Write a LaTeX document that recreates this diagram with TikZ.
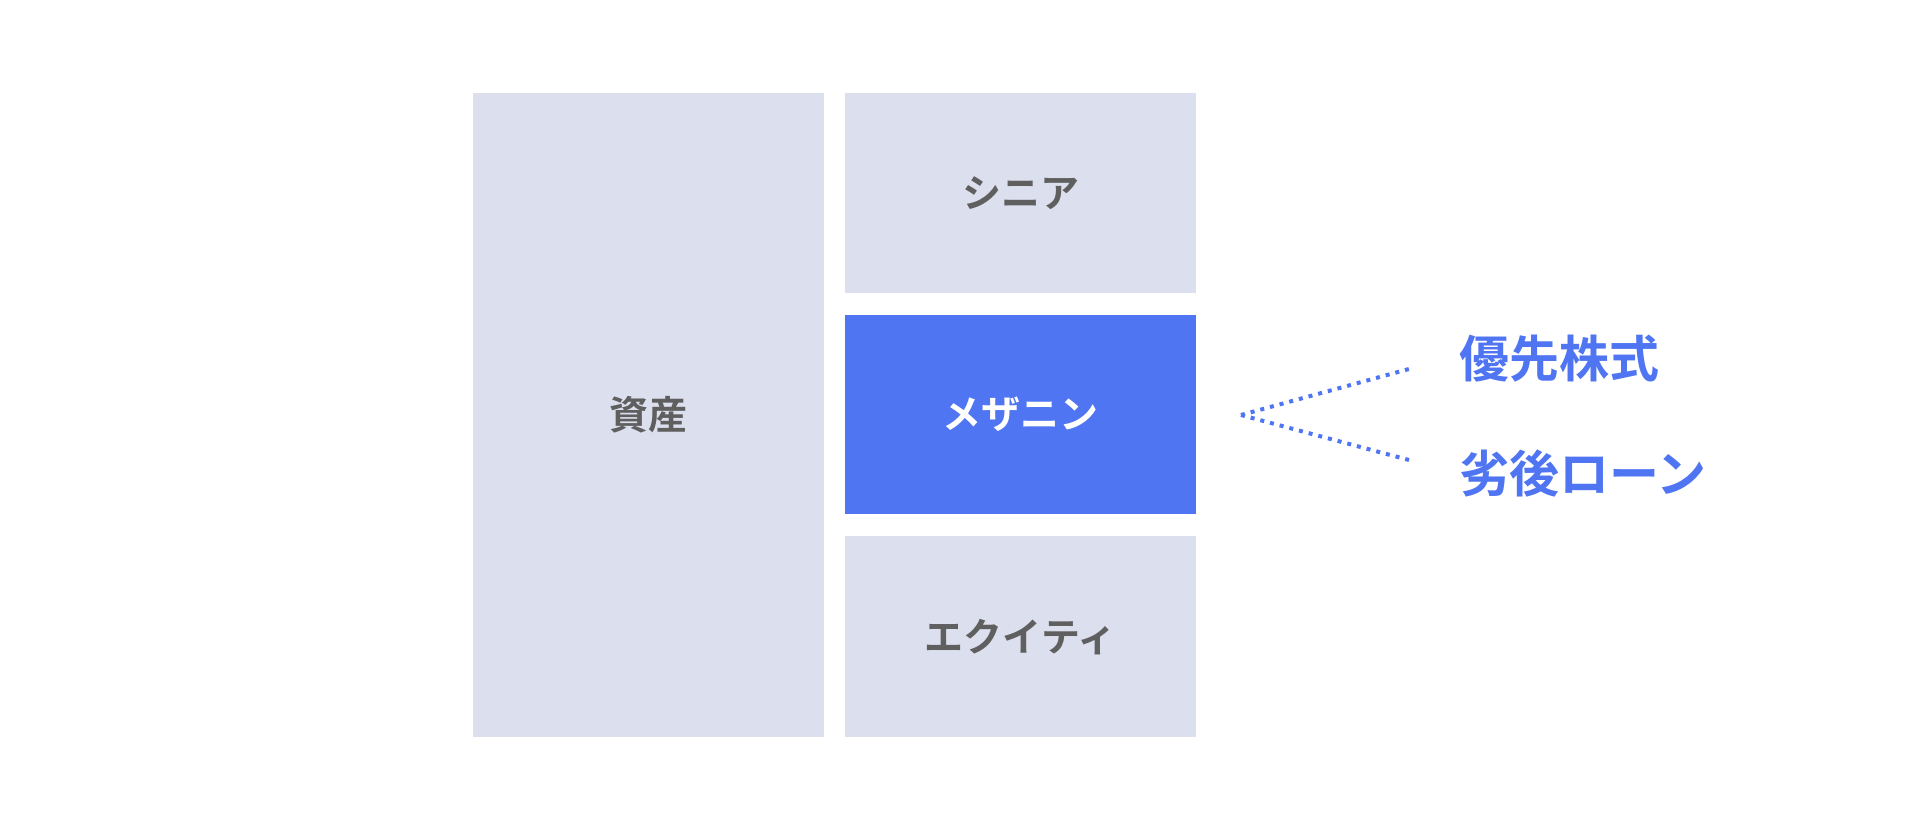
\documentclass[tikz,border=0pt]{standalone}
\usepackage{fontspec}
\setmainfont{Noto Sans CJK JP}[BoldFont={* Bold}]
\definecolor{boxgray}{HTML}{DCE0EE}
\definecolor{boxblue}{HTML}{4F75F2}
\definecolor{txtgray}{HTML}{5F5F5F}
\begin{document}
\begin{tikzpicture}[x=1pt,y=-1pt,
  blk/.style={fill=boxgray,draw=none},
  lbl/.style={text=txtgray,font=\fontsize{39}{44}\selectfont\bfseries},
  side/.style={text=boxblue,font=\fontsize{50}{56}\selectfont\bfseries,anchor=west,inner sep=0pt},
  dots/.style={draw=boxblue,line width=4pt,dash pattern=on 4pt off 6pt}]
\useasboundingbox (0,0) rectangle (1920,830);
\fill[white] (0,0) rectangle (1920,830);
\fill[blk] (472.7,93) rectangle (824.1,737);
\fill[blk] (845,93) rectangle (1196.4,292.7);
\fill[boxblue] (845,314.7) rectangle (1196.4,514.3);
\fill[blk] (845,536.3) rectangle (1196.4,737);
\node[lbl] (assets) at (648.4,415) {資産};
\node[lbl] (senior) at (1020.7,192.8) {シニア};
\node[lbl,text=white] (mezz) at (1020.7,414.5) {メザニン};
\node[lbl] (equity) at (1020.7,636.6) {エクイティ};
\coordinate (apex) at (1241,415);
\coordinate (up) at (1409,369);
\coordinate (dn) at (1409,460);
\draw[dots] (apex) -- (up);
\draw[dots] (apex) -- (dn);
\node[side] (pref) at (1459,358.4) {優先株式};
\node[side] (sub) at (1459,473.4) {劣後ローン};
\end{tikzpicture}
\end{document}
